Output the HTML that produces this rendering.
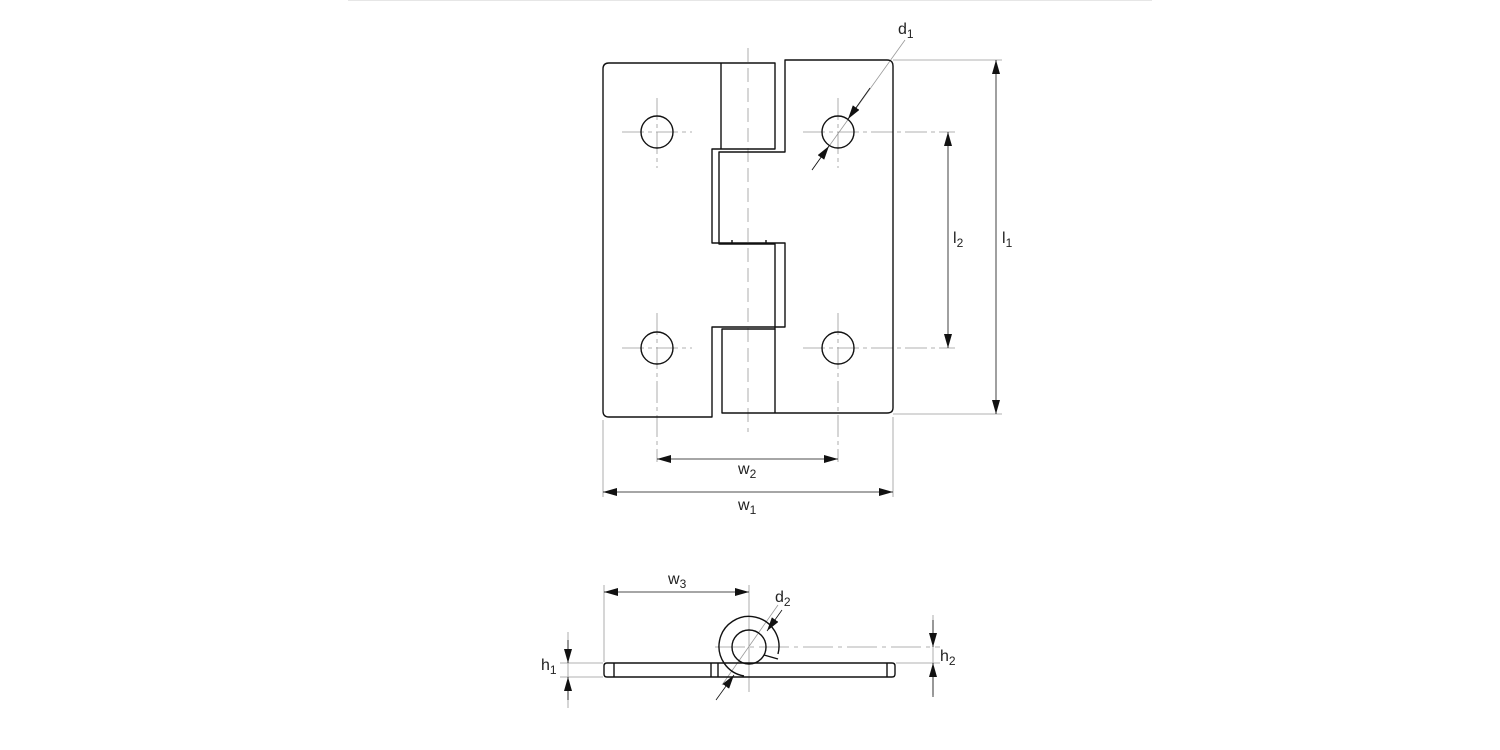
<!DOCTYPE html>
<html><head><style>body{margin:0;background:#fff}svg{display:block}text{font-family:"Liberation Sans",sans-serif;fill:#222}</style></head>
<body>
<svg width="1500" height="750" viewBox="0 0 1500 750" xmlns="http://www.w3.org/2000/svg">
<defs>
<marker id="a" viewBox="0 0 14 8" refX="14" refY="4" markerWidth="14" markerHeight="8" markerUnits="userSpaceOnUse" orient="auto-start-reverse"><path d="M0,0L14,4L0,8z" fill="#111"/></marker>
</defs>
<line x1="348" y1="0.5" x2="1152" y2="0.5" stroke="#e6e6e6"/>
<g stroke="#999" stroke-width="0.8" fill="none">
<line x1="748" y1="48" x2="748" y2="432" stroke-dasharray="14,6"/>
<g stroke-dasharray="22,4,4,4">
<line x1="622" y1="132" x2="692" y2="132"/><line x1="657" y1="98" x2="657" y2="168"/>
<line x1="622" y1="348" x2="692" y2="348"/><line x1="657" y1="313" x2="657" y2="462"/>
<line x1="803" y1="132" x2="955" y2="132"/><line x1="838" y1="98" x2="838" y2="168"/>
<line x1="803" y1="348" x2="955" y2="348"/><line x1="838" y1="313" x2="838" y2="462"/>
</g>
<line x1="893" y1="60" x2="1002" y2="60"/><line x1="893" y1="414" x2="1002" y2="414"/>
<line x1="603" y1="420" x2="603" y2="497"/><line x1="893" y1="417" x2="893" y2="497"/>
<line x1="812" y1="170" x2="905" y2="40"/>
<line x1="604" y1="585" x2="604" y2="662"/><line x1="749" y1="585" x2="749" y2="692"/>
<line x1="715" y1="647" x2="940" y2="647" stroke-dasharray="30,5,4,5"/>
<line x1="896" y1="663" x2="940" y2="663"/><line x1="560" y1="663" x2="603" y2="663"/><line x1="560" y1="677" x2="603" y2="677"/>
<line x1="568" y1="632" x2="568" y2="708"/><line x1="933" y1="615" x2="933" y2="695"/>
<line x1="722" y1="685" x2="778" y2="605"/>
</g>
<g stroke="#111" stroke-width="1.4" fill="none" stroke-linejoin="round">
<path d="M609,63H775V149H712V243H785V327H712V417H609Q603,417 603,411V69Q603,63 609,63Z"/>
<line x1="721" y1="63" x2="721" y2="149"/>
<path d="M785,60H887Q893,60 893,66V408Q893,413 887,413H722V329H775V244H719V152H785Z"/>
<line x1="775" y1="329" x2="775" y2="413"/>
<line x1="732" y1="240" x2="732" y2="244"/><line x1="766" y1="240" x2="766" y2="244"/>
<circle cx="657" cy="132" r="16"/><circle cx="657" cy="348" r="16"/>
<circle cx="838" cy="132" r="16"/><circle cx="838" cy="348" r="16"/>
<path d="M607,663H745M749,663H892Q895,663 895,666V674Q895,677 892,677H607Q604,677 604,674V666Q604,663 607,663Z"/>
<line x1="614" y1="663" x2="614" y2="677"/><line x1="711" y1="663" x2="711" y2="677"/><line x1="718" y1="663" x2="718" y2="677"/><line x1="887" y1="663" x2="887" y2="677"/>
<path d="M778,654A30,30 0 1 0 744,676"/>
<circle cx="749" cy="647" r="17"/>
<line x1="764" y1="655" x2="778" y2="659"/>
</g>
<g stroke="#111" stroke-width="0.8" fill="none">
<line x1="948" y1="132" x2="948" y2="348" marker-start="url(#a)" marker-end="url(#a)"/>
<line x1="996" y1="60" x2="996" y2="414" marker-start="url(#a)" marker-end="url(#a)"/>
<line x1="657" y1="459" x2="838" y2="459" marker-start="url(#a)" marker-end="url(#a)"/>
<line x1="603" y1="492" x2="893" y2="492" marker-start="url(#a)" marker-end="url(#a)"/>
<line x1="870" y1="88" x2="848" y2="119" marker-end="url(#a)"/>
<line x1="812" y1="170" x2="829" y2="146" marker-end="url(#a)"/>
<line x1="604" y1="592" x2="749" y2="592" marker-start="url(#a)" marker-end="url(#a)"/>
<line x1="568" y1="640" x2="568" y2="663" marker-end="url(#a)"/>
<line x1="568" y1="700" x2="568" y2="677" marker-end="url(#a)"/>
<line x1="933" y1="620" x2="933" y2="647" marker-end="url(#a)"/>
<line x1="933" y1="697" x2="933" y2="663" marker-end="url(#a)"/>
<line x1="782" y1="610" x2="767" y2="631" marker-end="url(#a)"/>
<line x1="716" y1="700" x2="734" y2="675" marker-end="url(#a)"/>
</g>
<g font-size="16">
<text x="898" y="34">d<tspan font-size="12" dy="4">1</tspan></text>
<text x="953" y="243">l<tspan font-size="12" dy="4">2</tspan></text>
<text x="1002" y="243">l<tspan font-size="12" dy="4">1</tspan></text>
<text x="738" y="474">w<tspan font-size="12" dy="4">2</tspan></text>
<text x="738" y="510">w<tspan font-size="12" dy="4">1</tspan></text>
<text x="668" y="584">w<tspan font-size="12" dy="4">3</tspan></text>
<text x="775" y="602">d<tspan font-size="12" dy="4">2</tspan></text>
<text x="541" y="670">h<tspan font-size="12" dy="4">1</tspan></text>
<text x="940" y="661">h<tspan font-size="12" dy="4">2</tspan></text>
</g>
</svg>
</body></html>
